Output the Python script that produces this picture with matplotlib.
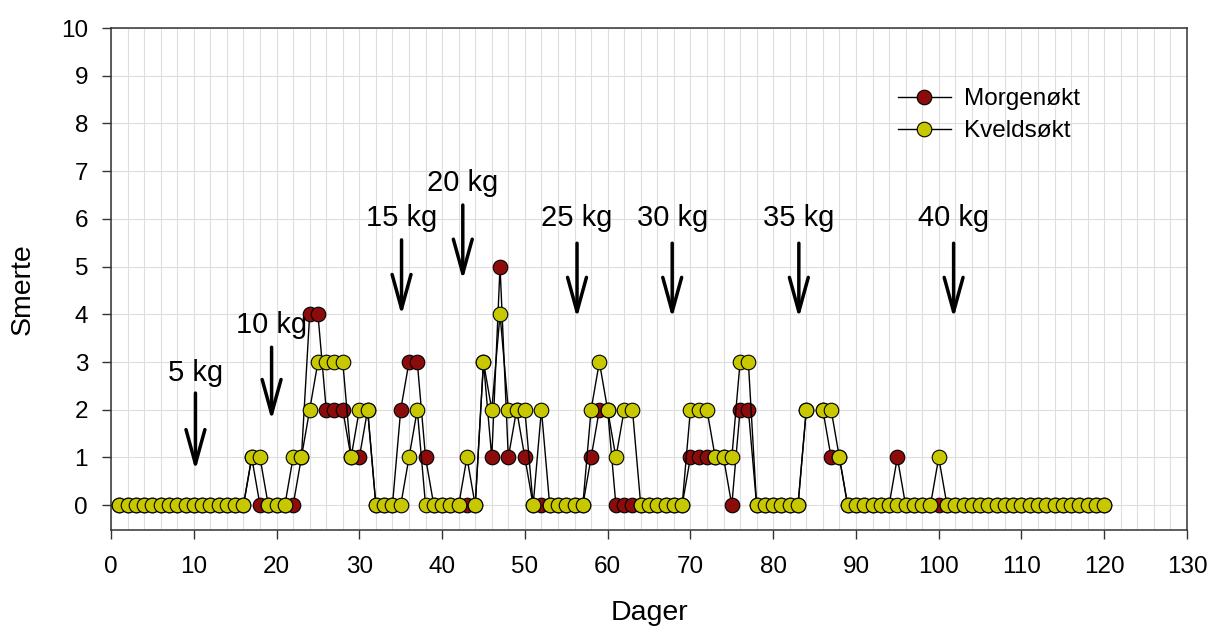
import numpy as np
import matplotlib
matplotlib.use("Agg")
import matplotlib.pyplot as plt
from matplotlib.lines import Line2D
from matplotlib.ticker import MultipleLocator

plt.rcParams['font.family'] = ['Liberation Sans', 'DejaVu Sans']

# DATA #
nan = np.nan
days = list(range(1, 121))
morgen = [0, 0, 0, 0, 0, 0, 0, 0, 0, 0,
          0, 0, 0, 0, 0, 0, 1, 0, 0, 0,
          0, 0, 1, 4, 4, 2, 2, 2, 1, 1,
          2, 0, 0, 0, 2, 3, 3, 1, 0, 0,
          0, 0, 0, 0, 3, 1, 5, 1, 2, 1,
          0, 0, 0, 0, 0, 0, 0, 1, 2, 2,
          0, 0, 0, 0, 0, 0, 0, 0, 0, 1,
          1, 1, 1, 1, 0, 2, 2, 0, 0, 0,
          0, 0, 0, 2, nan, 2, 1, 1, 0, 0,
          0, 0, 0, 0, 1, 0, 0, 0, 0, 0,
          0, 0, 0, 0, 0, 0, 0, 0, 0, 0,
          0, 0, 0, 0, 0, 0, 0, 0, 0, 0]
kveld = [0, 0, 0, 0, 0, 0, 0, 0, 0, 0,
         0, 0, 0, 0, 0, 0, 1, 1, 0, 0,
         0, 1, 1, 2, 3, 3, 3, 3, 1, 2,
         2, 0, 0, 0, 0, 1, 2, 0, 0, 0,
         0, 0, 1, 0, 3, 2, 4, 2, 2, 2,
         0, 2, 0, 0, 0, 0, 0, 2, 3, 2,
         1, 2, 2, 0, 0, 0, 0, 0, 0, 2,
         2, 2, 1, 1, 1, 3, 3, 0, 0, 0,
         0, 0, 0, 2, nan, 2, 2, 1, 0, 0,
         0, 0, 0, 0, 0, 0, 0, 0, 0, 1,
         0, 0, 0, 0, 0, 0, 0, 0, 0, 0,
         0, 0, 0, 0, 0, 0, 0, 0, 0, 0]

# weight increase annotations
load_labels = ['5 kg', '10 kg', '15 kg', '20 kg', '25 kg', '30 kg', '35 kg', '40 kg']
load_days = [10.2, 19.4, 35.1, 42.5, 56.3, 67.8, 83.1, 101.8]
label_y = [2.77, 3.77, 6.02, 6.75, 6.02, 6.02, 6.02, 6.02]
arrow_top = [2.35, 3.31, 5.56, 6.29, 5.49, 5.49, 5.49, 5.49]
arrow_tip = [0.73, 1.78, 3.98, 4.72, 3.92, 3.92, 3.92, 3.92]

red = '#8c0c0c'
yellow = '#c8c800'
fs = 17.5

# PLOT #
fig = plt.figure(figsize=(12.12, 6.28), dpi=100)
ax = fig.add_axes([0.0916, 0.156, 0.8878, 0.7994])

ax.plot(days, morgen, color='black', lw=1, marker='o', ms=10.5,
        mfc=red, mec='black', mew=0.8, zorder=3)
ax.plot(days, kveld, color='black', lw=1, marker='o', ms=10.5,
        mfc=yellow, mec='black', mew=0.8, zorder=4)

for lab, xd, ly, top, tip in zip(load_labels, load_days, label_y, arrow_top, arrow_tip):
    ax.text(xd, ly, lab, ha='center', va='center', fontsize=21, zorder=5)
    ax.annotate('', xy=(xd, tip), xytext=(xd, top),
                arrowprops=dict(arrowstyle='->, head_length=1.45, head_width=0.4',
                                lw=2.5, color='black', shrinkA=0, shrinkB=0,
                                mutation_scale=17), zorder=5)

# Axis settings
ax.set_xlim(0, 130)
ax.set_ylim(-0.52, 10)
ax.xaxis.set_major_locator(MultipleLocator(10))
ax.xaxis.set_minor_locator(MultipleLocator(2))
ax.yaxis.set_major_locator(MultipleLocator(1))
ax.grid(which='both', axis='x', color='#dedede', lw=0.8, zorder=0)
ax.grid(which='major', axis='y', color='#dedede', lw=0.8, zorder=0)
ax.set_axisbelow(True)
ax.tick_params(axis='both', which='major', direction='out', length=6.5, width=1,
               labelsize=fs, color='#333333')
ax.tick_params(axis='x', which='major', pad=12)
ax.tick_params(axis='y', which='major', pad=10)
ax.tick_params(axis='x', which='minor', length=0)
for s in ax.spines.values():
    s.set_color('#333333')
    s.set_linewidth(1.1)

ax.set_xlabel('Dager', fontsize=20.5)
ax.set_ylabel('Smerte', fontsize=20.5)
ax.xaxis.set_label_coords(0.5, -0.14)
ax.yaxis.set_label_coords(-0.07, 0.48)

handles = [Line2D([], [], color='black', lw=1, marker='o', ms=10.5, mfc=red, mec='black', mew=0.8),
           Line2D([], [], color='black', lw=1, marker='o', ms=10.5, mfc=yellow, mec='black', mew=0.8)]
ax.legend(handles, ['Morgenøkt', 'Kveldsøkt'], loc='upper left', bbox_to_anchor=(0.731, 0.88),
          frameon=False, fontsize=fs, borderaxespad=0, borderpad=0, handlelength=2.2,
          handletextpad=0.55, labelspacing=0.42)

fig.savefig('out.png', dpi=100)
